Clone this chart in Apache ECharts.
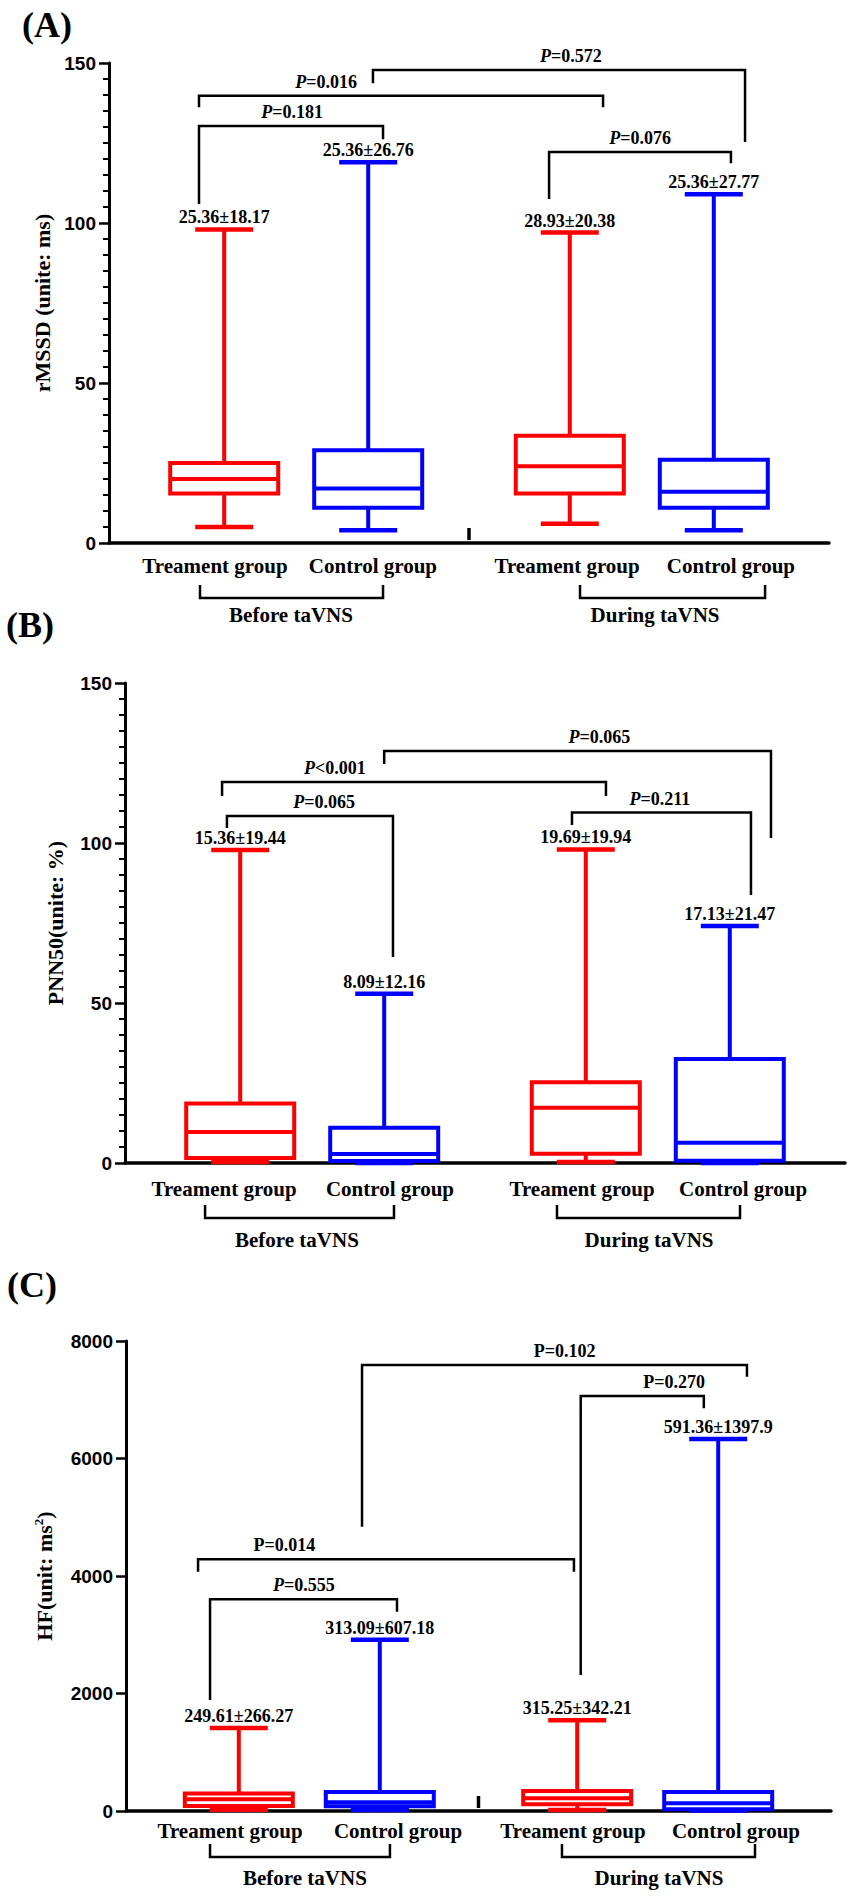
<!DOCTYPE html>
<html><head><meta charset="utf-8">
<script src="https://cdn.jsdelivr.net/npm/echarts@6/dist/echarts.min.js"></script>
<style>html,body{margin:0;padding:0;background:#fff}#c{width:851px;height:1902px}</style>
</head><body><div id="c"></div>
<script>
// ---------------- data ----------------
const groups = ['Before taVNS', 'During taVNS'];
const categories = ['Treament group', 'Control group', 'Treament group', 'Control group'];
// each box: [min, Q1, median, Q3, max]
const rmssdBoxes = [[5, 15.5, 20, 25, 98], [4, 11, 17, 29, 119], [6, 15.5, 24, 33.5, 97], [4, 11, 16, 26, 109]];
const rmssdMeanSD = ['25.36±18.17', '25.36±26.76', '28.93±20.38', '25.36±27.77'];
const rmssdP = ['P=0.181', 'P=0.016', 'P=0.572', 'P=0.076'];
const pnn50Boxes = [[0.3, 1.6, 9.7, 18.6, 97.8], [0, 0.6, 2.8, 11, 52.9], [0.3, 2.9, 17.3, 25.2, 98], [0, 0.7, 6.3, 32.5, 74.1]];
const pnn50MeanSD = ['15.36±19.44', '8.09±12.16', '19.69±19.94', '17.13±21.47'];
const pnn50P = ['P=0.065', 'P<0.001', 'P=0.065', 'P=0.211'];
const hfBoxes = [[20, 85, 200, 300, 1411], [15, 80, 150, 325, 2914], [15, 113, 215, 340, 1543], [10, 30, 130, 325, 6332]];
const hfMeanSD = ['249.61±266.27', '313.09±607.18', '315.25±342.21', '591.36±1397.9'];
const hfP = ['P=0.555', 'P=0.014', 'P=0.102', 'P=0.270'];
const rmssdTicks = { max: 150, interval: 50 };
const pnn50Ticks = { max: 150, interval: 50 };
const hfTicks = { max: 8000, interval: 2000 };

// ---------------- layout / style ----------------
const RED = '#ff0000', BLUE = '#0000ff';
const SERIF = '"Liberation Serif","Times New Roman",serif';
const SANS = '"Liberation Sans",Arial,sans-serif';
const xPos = [1, 2, 3.4, 4.4];
// bracket: [x1, x2, yBar, yLeftEnd, yRightEnd, labelX]
const panels = [
  { title: '(A)', tl: 22, tt: 7, grid: { left: 109, top: 63, width: 720, height: 480 },
    yName: 'rMSSD (unite: ms)', nameGap: 56, ticks: rmssdTicks, minor: true,
    boxes: rmssdBoxes, meanSD: rmssdMeanSD, pText: rmssdP, pItalic: [1, 1, 1, 1],
    brackets: [[0.825, 2.103, 130.3, 105.9, 126.2, 1.471], [0.825, 3.631, 139.8, 136.2, 136.2, 1.707],
               [2.033, 4.617, 147.8, 143.7, 125.3, 3.408], [3.256, 4.519, 122.2, 107.5, 118.7, 3.888]],
    labelX: [0.936, 2.033, 3.381, 4.519],
    catMargin: 12, gl: { leg: 42, bar: 55, lab: 72, items: [[0.832, 2.103, 1.464], [3.471, 4.756, 3.992]] }, breakX: 2.7 },
  { title: '(B)', tl: 6, tt: 607, grid: { left: 125, top: 683, width: 720, height: 480 },
    yName: 'PNN50(unite: %)', nameGap: 59, ticks: pnn50Ticks, minor: true,
    boxes: pnn50Boxes, meanSD: pnn50MeanSD, pText: pnn50P, pItalic: [1, 1, 1, 1],
    brackets: [[0.908, 2.061, 108.4, 104.7, 64.4, 1.582], [0.874, 3.540, 119.1, 114.7, 114.7, 1.658],
               [2.0, 4.686, 128.75, 124.7, 101.6, 3.495], [3.304, 4.547, 109.5, 105.6, 83.75, 3.915]],
    labelX: [0.888, 2.040, 3.374, 4.492],
    catMargin: 15, gl: { leg: 42, bar: 55, lab: 77, items: [[0.756, 2.068, 1.394], [3.2, 4.471, 3.839]] }, breakX: null },
  { title: '(C)', tl: 7, tt: 1267, grid: { left: 126, top: 1341, width: 705, height: 470 },
    yName: '{a|HF(unit: ms}{s|2}{a|)}', nameGap: 70, ticks: hfTicks, minor: false,
    boxes: hfBoxes, meanSD: hfMeanSD, pText: hfP, pItalic: [1, 0, 0, 0],
    brackets: [[0.796, 2.122, 3603, 1889, 3393, 1.462], [0.711, 3.377, 4284, 4073, 4073, 1.324],
               [1.874, 4.604, 7591, 4840, 7392, 3.310], [3.425, 4.298, 7064, 2315, 6855, 4.087]],
    labelX: [0.938, 2.129, 3.370, 4.526],
    catMargin: 9, gl: { leg: 33, bar: 46, lab: 67, items: [[0.796, 2.072, 1.469], [3.292, 4.661, 3.98]] }, breakX: 2.7 }
];

const BOX_W = 108, CAP_W = 58;
const txt = { fontFamily: SERIF, fontWeight: 'bold', fontSize: 18, fill: '#000' };

const option = { animation: false, backgroundColor: '#fff', title: [], grid: [], xAxis: [], yAxis: [], series: [] };

panels.forEach((P, k) => {
  option.title.push({ text: P.title, left: P.tl, top: P.tt, padding: 0,
    textStyle: { fontFamily: SERIF, fontWeight: 'bold', fontSize: 36, color: '#000' } });
  option.grid.push(Object.assign({ outerBoundsMode: 'none', containLabel: false }, P.grid));
  option.xAxis.push({ type: 'value', gridIndex: k, min: 0.2, max: 5.2,
    splitLine: { show: false }, axisTick: { show: false },
    axisLine: { show: true, onZero: false, lineStyle: { color: '#000', width: 3.5 } },
    axisLabel: { customValues: P.labelX, margin: P.catMargin, color: '#000', fontFamily: SERIF, fontWeight: 'bold', fontSize: 21,
      formatter: v => { const i = P.labelX.findIndex(p => Math.abs(p - v) < 1e-6); return i >= 0 ? categories[i] : ''; } } });
  option.yAxis.push({ type: 'value', gridIndex: k, min: 0, max: P.ticks.max, interval: P.ticks.interval,
    name: P.yName, nameLocation: 'middle', nameGap: P.nameGap,
    nameTextStyle: { color: '#000', fontFamily: SERIF, fontWeight: 'bold', fontSize: 22,
      rich: { a: { fontFamily: SERIF, fontWeight: 'bold', fontSize: 22, color: '#000', lineHeight: 24 },
              s: { fontFamily: SERIF, fontWeight: 'bold', fontSize: 13, color: '#000', verticalAlign: 'top', lineHeight: 24 } } },
    splitLine: { show: false },
    axisLine: { show: true, onZero: false, lineStyle: { color: '#000', width: 3 } },
    axisTick: { show: true, length: 10, lineStyle: { color: '#000', width: 2.5 } },
    minorTick: { show: P.minor, splitNumber: 10, length: 6, lineStyle: { color: '#000', width: 2 } },
    axisLabel: { color: '#000', fontFamily: SANS, fontWeight: 'bold', fontSize: 19, margin: 13, formatter: v => String(v) } });

  // boxes
  option.series.push({ type: 'custom', xAxisIndex: k, yAxisIndex: k, clip: false, silent: true,
    data: P.boxes.map((b, i) => [xPos[i]].concat(b)),
    renderItem(params, api) {
      const x = api.value(0);
      const c = j => api.coord([x, api.value(j)]);
      const cx = c(1)[0], yMin = c(1)[1], yQ1 = c(2)[1], yMed = c(3)[1], yQ3 = c(4)[1], yMax = c(5)[1];
      const i = params.dataIndex, col = i % 2 === 0 ? RED : BLUE;
      const hb = BOX_W / 2, hc = CAP_W / 2;
      const ln = (x1, y1, x2, y2, w) => ({ type: 'line', shape: { x1, y1, x2, y2 }, style: { stroke: col, lineWidth: w } });
      return { type: 'group', children: [
        ln(cx, yQ3, cx, yMax, 4), ln(cx, yQ1, cx, yMin, 4),
        ln(cx - hc, yMax, cx + hc, yMax, 4.5), ln(cx - hc, yMin, cx + hc, yMin, 4.5),
        { type: 'rect', shape: { x: cx - hb, y: yQ3, width: BOX_W, height: yQ1 - yQ3 }, style: { stroke: col, lineWidth: 4, fill: '#fff' } },
        ln(cx - hb, yMed, cx + hb, yMed, 4),
        { type: 'text', x: cx, y: yMax - 12, style: Object.assign({ text: P.meanSD[i], align: 'center', verticalAlign: 'middle' }, txt) }
      ] };
    } });

  // significance brackets
  option.series.push({ type: 'custom', xAxisIndex: k, yAxisIndex: k, clip: false, silent: true,
    data: P.brackets,
    renderItem(params, api) {
      const i = params.dataIndex;
      const L = api.coord([api.value(0), api.value(3)]);
      const T1 = api.coord([api.value(0), api.value(2)]);
      const T2 = api.coord([api.value(1), api.value(2)]);
      const R = api.coord([api.value(1), api.value(4)]);
      const lx = api.coord([api.value(5), api.value(2)])[0];
      const s = P.pText[i];
      const text = P.pItalic[i] ? '{i|P}{n|' + s.slice(1) + '}' : '{n|' + s + '}';
      return { type: 'group', children: [
        { type: 'polyline', shape: { points: [L, T1, T2, R] }, style: { stroke: '#000', lineWidth: 2.5, fill: null } },
        { type: 'text', x: lx, y: T1[1] - 14, style: { text, align: 'center', verticalAlign: 'middle',
          rich: { i: Object.assign({ fontStyle: 'italic' }, txt), n: Object.assign({}, txt) } } }
      ] };
    } });

  // group brackets under the axis
  option.series.push({ type: 'custom', xAxisIndex: k, yAxisIndex: k, clip: false, silent: true,
    data: P.gl.items,
    renderItem(params, api) {
      const a = api.coord([api.value(0), 0]), b = api.coord([api.value(1), 0]);
      const lx = api.coord([api.value(2), 0])[0];
      const y0 = a[1], g = P.gl;
      return { type: 'group', children: [
        { type: 'polyline', shape: { points: [[a[0], y0 + g.leg], [a[0], y0 + g.bar], [b[0], y0 + g.bar], [b[0], y0 + g.leg]] },
          style: { stroke: '#000', lineWidth: 2.5, fill: null } },
        { type: 'text', x: lx, y: y0 + g.lab, style: { text: groups[params.dataIndex], align: 'center', verticalAlign: 'middle',
          fontFamily: SERIF, fontWeight: 'bold', fontSize: 21, fill: '#000' } }
      ] };
    } });

  if (P.breakX !== null) {
    option.series.push({ type: 'custom', xAxisIndex: k, yAxisIndex: k, clip: false, silent: true,
      data: [[P.breakX]],
      renderItem(params, api) {
        const p = api.coord([api.value(0), 0]);
        return { type: 'line', shape: { x1: p[0], y1: p[1] - 15, x2: p[0], y2: p[1] - 3 }, style: { stroke: '#000', lineWidth: 3.5 } };
      } });
  }
});

const chart = echarts.init(document.getElementById('c'), null, { renderer: 'svg', width: 851, height: 1902 });
chart.setOption(option);
</script></body></html>
